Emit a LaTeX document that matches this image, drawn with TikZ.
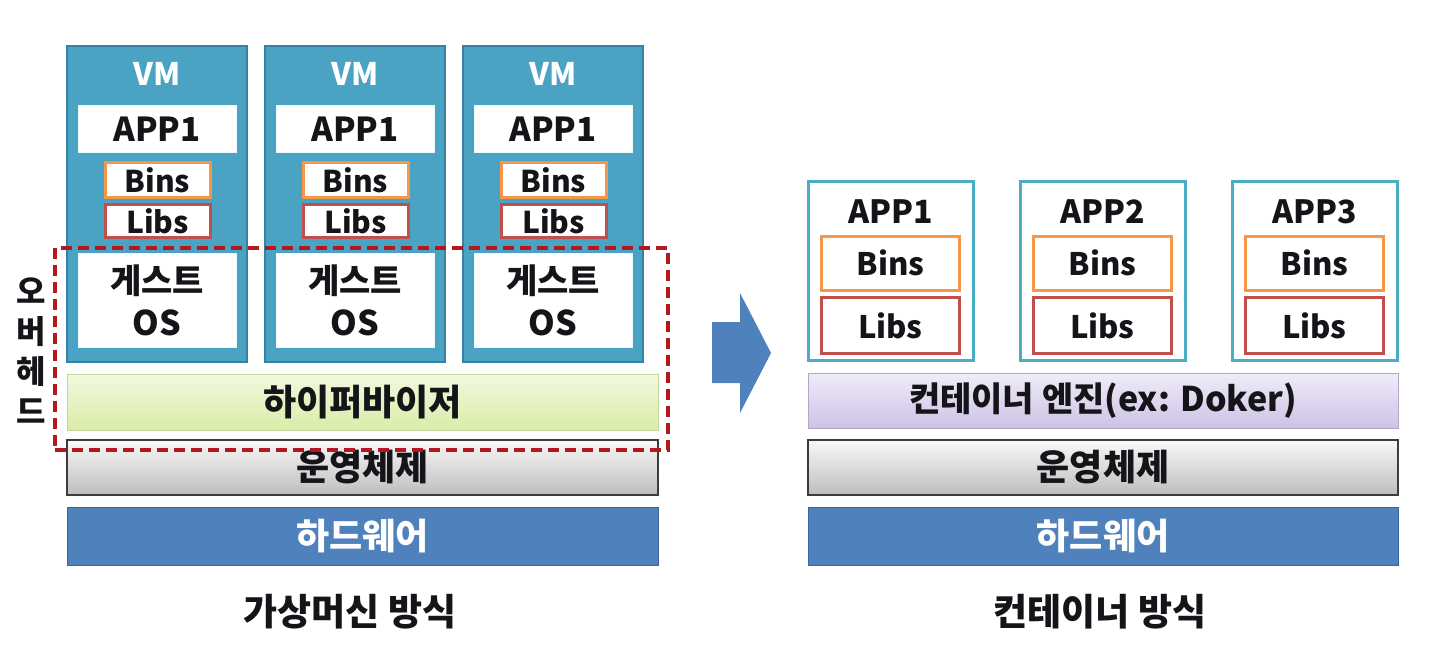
\documentclass[tikz,border=0pt]{standalone}
\usepackage{fontspec}
\setmainfont{Noto Sans CJK KR}
\usetikzlibrary{calc}
\definecolor{vmfill}{RGB}{75,163,196}
\definecolor{vmborder}{RGB}{52,130,165}
\definecolor{binsc}{RGB}{247,150,70}
\definecolor{libsc}{RGB}{192,80,77}
\definecolor{contc}{RGB}{75,172,198}
\definecolor{hwfill}{RGB}{79,129,189}
\definecolor{hwborder}{RGB}{60,100,160}
\definecolor{dashc}{RGB}{178,24,30}
\definecolor{txt}{RGB}{20,20,25}
\tikzset{
  fs/.style={font=\fontsize{#1}{#1}\selectfont\bfseries},
  vmbox/.style={draw=vmborder,fill=vmfill,line width=2.5pt,minimum width=180,minimum height=316,inner sep=0},
  whitebox/.style={fill=white,draw=white!90!vmfill,line width=0.8pt,minimum width=158,inner sep=0,text=txt,fs=33,align=center},
  binsbox/.style={draw=binsc,fill=white,line width=3pt,inner sep=0,text=txt},
  libsbox/.style={draw=libsc,fill=white,line width=3pt,inner sep=0,text=txt},
  contbox/.style={draw=contc,fill=white,line width=3pt,minimum width=165,minimum height=179,inner sep=0},
  bar/.style={minimum height=56,inner sep=0,text=txt,fs=36},
  hyper/.style={bar,top color={rgb,255:red,242;green,249;blue,222},bottom color={rgb,255:red,218;green,236;blue,170},draw={rgb,255:red,195;green,214;blue,155},line width=1pt},
  engine/.style={bar,top color={rgb,255:red,240;green,236;blue,248},bottom color={rgb,255:red,205;green,194;blue,230},draw={rgb,255:red,180;green,165;blue,205},line width=1pt},
  osbar/.style={bar,top color={rgb,255:red,248;green,248;blue,248},bottom color={rgb,255:red,190;green,190;blue,190},draw={rgb,255:red,60;green,60;blue,60},line width=1.5pt},
  hwbar/.style={bar,minimum height=58,fill=hwfill,draw=hwborder,line width=1pt,text=white},
  caption/.style={text=txt,fs=37},
}
\begin{document}
\begin{tikzpicture}[x=1pt,y=-1pt]
\useasboundingbox (0,0) rectangle (1436,656);
\fill[white] (0,0) rectangle (1436,656);

% ---------- left: virtual machines ----------
\foreach \i/\cx in {1/157,2/355,3/553}{
  \node[vmbox] (vm\i) at (\cx,204) {};
  \node[text=white,fs=31] (vml\i) at (\cx,74) {VM};
  \node[whitebox,minimum height=47] (app\i) at (\cx,129) {APP1};
  \node[binsbox,minimum width=105,minimum height=35,fs=30] (bins\i) at (\cx+0.5,180) {Bins};
  \node[libsbox,minimum width=105,minimum height=33,fs=30] (libs\i) at (\cx+0.5,221) {Libs};
  \node[whitebox,minimum height=94,font=\fontsize{34}{42}\selectfont\bfseries] (gos\i) at (\cx,300) {게스트\\OS};
}
\node[hyper,minimum width=591] (hyp) at (362.5,402) {하이퍼바이저};
\node[osbar,minimum width=591,minimum height=55] (osl) at (362.5,467.5) {운영체제};
\node[hwbar,minimum width=591] (hwl) at (362.5,536) {하드웨어};
\node[draw=dashc,line width=3.5pt,dash pattern=on 11pt off 6pt,minimum width=613,minimum height=202,inner sep=0] (ovh) at (361.5,349) {};
\node[text=txt,align=center,font=\fontsize{32}{40}\selectfont\bfseries] (ovhl) at (31,351) {오\\버\\헤\\드};
\node[caption] (capl) at (350,612) {가상머신 방식};

% ---------- arrow ----------
\fill[hwfill] (712,322) -- (740,322) -- (740,293) -- (771,353) -- (740,413) -- (740,383) -- (712,383) -- cycle;

% ---------- right: containers ----------
\foreach \i/\cx/\n in {1/890.5/1,2/1102.5/2,3/1314.5/3}{
  \node[contbox] (ct\i) at (\cx,270.5) {};
  \node[text=txt,fs=32] (capp\i) at (\cx,212) {APP\n};
  \node[binsbox,minimum width=138,minimum height=54,fs=31] (cbins\i) at (\cx,263) {Bins};
  \node[libsbox,minimum width=138,minimum height=56,fs=31] (clibs\i) at (\cx,325.5) {Libs};
}
\node[engine,minimum width=590,minimum height=55,fs=34] (eng) at (1103,400.5) {컨테이너 엔진(ex: Doker)};
\node[osbar,minimum width=590,minimum height=55] (osr) at (1103,467.5) {운영체제};
\node[hwbar,minimum width=590] (hwr) at (1103,536) {하드웨어};
\node[caption] (capr) at (1100,612) {컨테이너 방식};
\end{tikzpicture}
\end{document}
